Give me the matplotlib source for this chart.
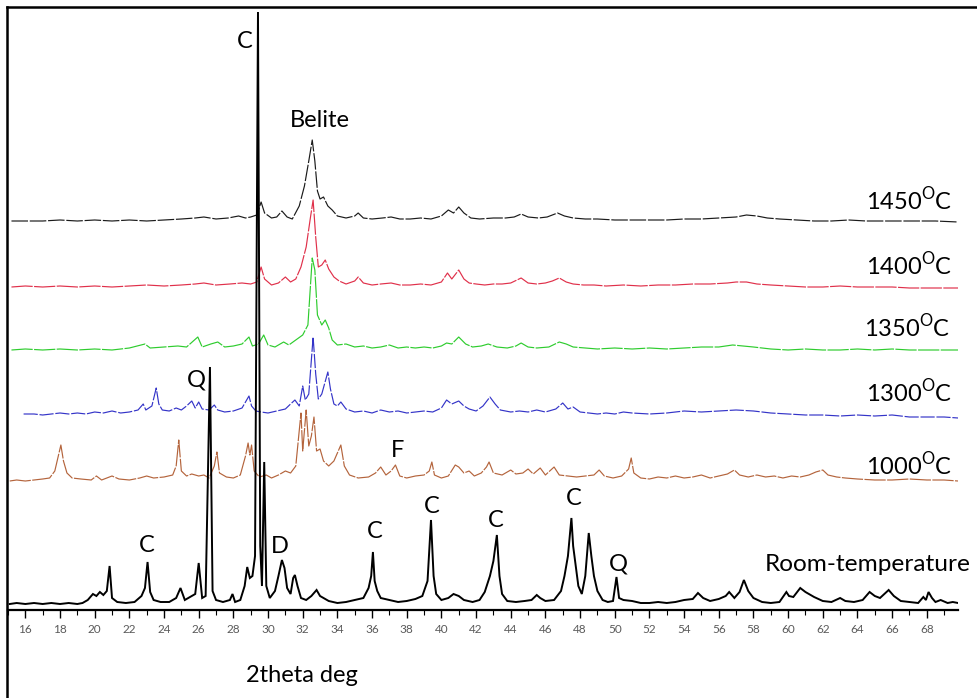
import matplotlib
matplotlib.use("Agg")
import matplotlib.pyplot as plt
from matplotlib.lines import Line2D
import numpy as np

plt.rcParams['font.family'] = ['Lato', 'DejaVu Sans']

# ---------------- data (2theta, intensity above each pattern's baseline) ----------------
rt_x = [15.1,15.5,16.0,16.5,17.0,17.5,18.0,18.5,19.0,19.3,19.6,19.9,20.1,20.3,20.5,20.7,20.86,21.0,21.3,21.8,
        22.3,22.7,22.9,23.05,23.2,23.4,23.8,24.3,24.7,24.95,25.2,25.5,25.8,26.0,26.2,26.4,26.65,26.8,27.0,27.4,
        27.8,27.95,28.1,28.4,28.65,28.8,28.95,29.1,29.25,29.42,29.55,29.65,29.78,29.9,30.1,30.4,30.6,30.8,30.95,31.1,
        31.3,31.45,31.55,31.7,31.9,32.2,32.5,32.8,33.0,33.5,34.0,34.5,35.0,35.5,35.8,35.95,36.05,36.15,36.3,36.5,
        37.0,37.5,38.0,38.5,38.9,39.2,39.4,39.55,39.7,40.0,40.4,40.7,41.0,41.3,41.8,42.2,42.5,42.8,43.0,43.2,
        43.35,43.5,43.8,44.3,44.8,45.2,45.5,45.7,46.0,46.5,46.9,47.1,47.3,47.5,47.6,47.75,47.9,48.1,48.3,48.5,
        48.65,48.8,49.0,49.3,49.6,49.9,50.1,50.25,50.5,51.0,51.5,52.0,52.5,53.0,53.5,54.0,54.5,54.8,55.1,55.5,
        56.0,56.4,56.6,56.9,57.2,57.45,57.7,58.0,58.5,59.0,59.5,59.9,60.05,60.3,60.7,61.0,61.5,62.0,62.5,63.0,
        63.3,63.8,64.3,64.7,65.0,65.3,65.8,66.1,66.5,67.0,67.5,67.8,67.95,68.1,68.3,68.5,68.8,69.2,69.5,69.8]
rt_y = [2,3,2,3,2,3,2,3,2,3,6,12,10,14,11,15,40,8,4,3,
        4,10,18,44,14,6,4,4,8,18,6,9,12,43,8,10,239,15,6,4,
        6,12,4,6,20,39,28,30,50,594,60,20,144,20,8,15,30,46,38,18,
        12,28,31,20,8,6,10,16,10,5,3,4,6,8,18,30,54,25,15,8,
        6,4,5,7,10,25,86,30,12,6,8,12,10,6,4,6,14,30,45,71,
        30,12,5,4,5,6,11,8,5,6,15,30,50,88,60,40,20,12,30,73,
        50,30,15,6,4,5,29,8,6,5,3,3,4,3,4,6,7,13,8,5,
        7,10,14,8,14,26,15,8,4,3,4,14,10,9,18,14,9,5,4,8,
        5,4,6,14,10,8,16,10,5,4,3,9,6,14,8,4,6,3,4,3]

t1000_x = [15.1,15.5,16.0,16.5,17.0,17.4,17.7,17.9,18.05,18.2,18.4,18.7,19.2,19.8,20.1,20.4,21.0,21.4,22.0,22.6,
           23.0,23.4,24.0,24.5,24.7,24.85,25.0,25.3,25.6,26.0,26.3,26.6,26.9,27.05,27.2,27.6,28.0,28.4,28.7,28.85,
           28.95,29.05,29.2,29.5,29.9,30.2,30.6,31.0,31.3,31.6,31.9,32.0,32.2,32.35,32.5,32.65,32.8,33.0,33.2,33.5,
           33.8,34.2,34.4,34.7,35.2,35.8,36.2,36.5,36.8,37.1,37.35,37.6,38.0,38.5,39.0,39.3,39.45,39.6,40.0,40.4,
           40.8,41.0,41.3,41.6,41.9,42.3,42.6,42.75,43.0,43.5,44.0,44.3,44.7,45.0,45.3,45.7,46.0,46.5,46.8,47.3,
           47.8,48.3,48.8,49.1,49.4,49.9,50.4,50.8,50.95,51.1,51.5,52.0,52.5,53.0,53.5,54.0,54.5,55.0,55.5,56.0,
           56.5,56.9,57.2,57.7,58.2,58.7,59.2,59.7,60.2,60.7,61.2,61.6,62.0,62.3,62.8,63.3,64.0,65.0,66.0,67.0,
           68.0,69.0,69.8]
t1000_y = [0,1,0,1,2,3,10,25,36,20,8,3,2,1,5,1,5,2,1,3,
           5,3,4,6,15,41,10,5,7,5,6,3,15,29,8,4,3,6,25,38,
           26,36,10,4,6,3,6,10,8,15,68,30,71,35,45,64,30,32,20,15,
           20,36,15,6,3,4,8,14,6,10,16,5,3,5,6,10,19,6,3,5,
           16,14,8,10,5,8,14,19,8,6,11,7,8,12,7,13,6,14,6,5,
           4,5,6,11,5,3,5,12,23,8,3,2,4,3,5,3,4,6,3,5,
           7,11,6,4,6,4,5,3,5,4,6,9,11,6,4,3,2,1,1,2,
           1,1,0]

t1300_x = [15.9,16.5,17.0,17.5,18.0,18.5,19.0,19.5,20.0,20.5,21.0,21.5,22.0,22.5,22.8,22.95,23.3,23.55,23.7,23.9,
           24.3,24.7,25.0,25.3,25.6,25.8,26.0,26.2,26.6,26.9,27.1,27.5,28.0,28.5,28.7,28.9,29.05,29.3,29.6,30.0,
           30.5,31.0,31.3,31.55,31.8,32.0,32.15,32.35,32.6,32.75,32.9,33.1,33.45,33.6,33.8,34.0,34.2,34.5,35.0,35.5,
           36.0,36.5,37.0,37.5,38.0,38.5,39.0,39.5,40.0,40.3,40.6,41.0,41.3,41.6,42.0,42.4,42.8,43.1,43.4,44.0,
           44.5,45.0,45.5,46.0,46.6,47.0,47.3,47.6,48.0,48.5,49.0,49.5,50.0,50.5,51.0,52.0,53.0,54.0,55.0,56.0,
           57.0,58.0,59.0,60.0,61.0,62.0,63.0,64.0,65.0,66.0,67.0,68.0,69.0,69.8]
t1300_y = [0,0,-1,0,1,0,1,0,2,1,3,1,2,4,10,4,8,26,10,4,
           3,6,4,8,13,6,12,5,4,9,4,2,3,6,12,18,8,3,2,1,
           3,5,10,14,8,28,14,20,77,40,15,20,42,25,10,8,12,5,2,3,
           1,4,2,3,1,2,3,2,6,14,10,13,8,5,3,8,17,10,4,2,
           3,2,4,2,5,11,5,7,2,1,0,1,0,2,1,0,1,3,2,3,
           4,3,1,0,-1,-1,-2,-1,-2,-1,-3,-3,-3,-4]

t1350_x = [15.2,16.0,17.0,18.0,19.0,20.0,21.0,22.0,22.9,23.2,24.0,24.8,25.3,25.95,26.2,26.7,27.1,27.5,28.0,28.5,
           28.9,29.1,29.45,29.75,30.0,30.4,30.9,31.2,31.6,32.0,32.3,32.55,32.7,32.85,33.1,33.3,33.5,33.7,34.0,34.5,
           35.0,35.5,36.0,36.5,37.0,37.5,38.0,38.5,39.0,39.5,40.0,40.3,40.6,41.0,41.4,41.8,42.3,42.7,43.2,43.8,
           44.3,44.6,45.0,45.5,46.2,46.8,47.2,47.6,48.3,49.0,50.0,51.0,52.0,53.0,54.0,55.0,56.0,56.8,57.4,58.0,
           59.0,60.0,61.0,62.0,63.0,64.0,65.0,66.0,67.0,68.0,69.8]
t1350_y = [0,1,0,1,0,1,0,2,6,2,3,4,3,13,3,6,8,3,4,6,
           13,4,6,15,5,3,8,5,10,15,25,92,80,35,25,30,22,10,5,6,
           3,4,2,3,5,2,3,2,3,2,4,7,6,13,6,3,4,6,3,2,
           4,7,3,2,3,8,6,3,2,1,2,1,2,1,2,3,3,5,4,3,
           1,0,1,0,0,1,0,1,0,0,0]

t1400_x = [15.2,16.0,17.0,18.0,19.0,20.0,21.0,22.0,23.0,24.0,25.0,25.8,26.3,27.0,27.8,28.5,29.0,29.35,29.6,29.8,
           30.2,30.6,31.0,31.3,31.6,31.9,32.2,32.45,32.6,32.75,32.9,33.1,33.3,33.5,33.8,34.1,34.5,35.0,35.2,35.5,
           36.0,36.5,37.1,37.6,38.2,38.8,39.4,40.0,40.35,40.6,41.0,41.3,41.6,42.0,42.5,43.0,43.5,44.0,44.6,45.0,
           45.5,46.0,46.4,46.8,47.2,47.6,48.2,48.8,49.5,50.5,51.5,52.5,53.5,54.5,55.5,56.5,57.0,57.6,58.2,59.0,
           60.0,61.0,62.0,63.0,64.0,65.0,66.0,67.0,68.0,69.8]
t1400_y = [0,1,0,1,0,1,0,1,2,1,2,3,4,2,3,4,3,5,20,8,
           2,4,10,5,8,20,40,70,87,50,20,22,27,18,10,6,3,6,10,4,
           2,3,4,2,2,3,2,5,14,8,17,8,4,3,2,3,3,4,9,4,
           3,4,6,9,5,3,2,2,1,2,1,2,2,3,3,4,5,5,3,2,
           1,0,0,1,0,0,0,-1,-1,-1]

t1450_x = [15.2,16.0,17.0,18.0,19.0,20.0,21.0,22.0,23.0,24.0,25.0,25.8,26.3,27.0,27.7,28.3,28.7,29.0,29.35,29.6,
           29.8,30.2,30.5,30.8,31.1,31.4,31.8,32.1,32.35,32.55,32.7,32.85,33.0,33.2,33.45,33.7,34.0,34.5,35.0,35.2,
           35.5,36.0,36.6,37.1,37.6,38.2,38.8,39.4,40.0,40.4,40.7,41.0,41.3,41.7,42.2,43.0,43.7,44.2,44.6,45.0,
           45.6,46.1,46.7,47.1,47.6,48.3,49.0,50.0,51.0,52.0,53.0,54.0,55.0,56.0,57.0,57.6,58.2,58.8,59.5,60.5,
           61.5,62.5,63.5,64.5,65.5,66.5,67.5,68.5,69.8]
t1450_y = [0,0,0,1,0,1,0,1,0,1,2,3,4,2,3,5,3,4,6,19,
           8,3,4,10,4,2,15,35,60,81,60,30,22,24,15,11,5,3,5,8,
           3,2,3,4,2,2,3,2,5,11,8,14,8,3,2,3,3,4,7,4,
           3,4,8,5,3,2,2,1,1,1,1,2,2,3,4,6,5,3,2,1,
           0,0,1,0,0,0,0,0,-1]

series_names = ['Room-temperature', '1000', '1300', '1350', '1400', '1450']
series_offsets = [4, 129, 196, 260, 323, 389]

peak_labels = ['C', 'Belite', 'Q', 'F', 'C', 'D', 'C', 'C', 'C', 'C', 'Q']

# ---------------- figure ----------------
W, H = 977, 698
fig = plt.figure(figsize=(W / 100, H / 100), dpi=100)

def fx(px):
    return px / W

def fy(py):
    return 1 - py / H

ax_l, ax_r, ax_b, ax_t = 8, 958, 610, 7
ax = fig.add_axes([fx(ax_l), fy(ax_b), fx(ax_r) - fx(ax_l), fy(ax_t) - fy(ax_b)])
ax.set_xlim(15.1, 69.8)
ax.set_ylim(0, ax_b - ax_t)

styles = [
    (t1450_x, t1450_y, series_offsets[5], '#1a1a1a', 0.85, (0, (14, 1.5))),
    (t1400_x, t1400_y, series_offsets[4], '#e0304a', 0.85, (0, (18, 1.2))),
    (t1350_x, t1350_y, series_offsets[3], '#2ecc2e', 0.85, (0, (18, 1.2))),
    (t1300_x, t1300_y, series_offsets[2], '#3434c8', 0.85, (0, (12, 1.5))),
    (t1000_x, t1000_y, series_offsets[1], '#b4643c', 0.85, (0, (18, 1.2))),
    (rt_x, rt_y, series_offsets[0], '#000000', 1.4, '-'),
]
for xs, ys, off, col, lw, ls in styles:
    ax.plot(xs, np.asarray(ys) + off, color=col, lw=lw, ls=ls, solid_joinstyle='miter')

for s in ['left', 'top', 'right']:
    ax.spines[s].set_visible(False)
ax.spines['bottom'].set_linewidth(1.6)
ax.set_yticks([])
ax.set_xticks(np.arange(16, 69, 2))
ax.set_xticks(np.arange(15, 70, 1), minor=True)
ax.tick_params(axis='x', which='major', length=6, width=1, direction='out', pad=4,
               labelsize=8.5, labelcolor='#5a5a5a')
ax.tick_params(axis='x', which='minor', length=3.5, width=0.8, direction='out')

# frame lines (top and left)
fig.add_artist(Line2D([fx(7), 1.0], [fy(7), fy(7)], color='black', lw=1.8))
fig.add_artist(Line2D([fx(7), fx(7)], [fy(7), 0.0], color='black', lw=1.8))

fs = 17
# temperature labels
temps = [('1450', 952, 210), ('1400', 952, 275), ('1350', 950, 337), ('1300', 952, 402), ('1000', 952, 475)]
for t, px, py in temps:
    fig.text(fx(px), fy(py), t + r'$^{\mathregular{O}}$C', ha='right', va='baseline', fontsize=fs)
fig.text(fx(971), fy(571), series_names[0], ha='right', va='baseline', fontsize=17.6)

# peak labels
label_pos = [(245, 48), (320, 127), (196, 387), (398, 457), (147, 552), (280, 553),
             (375, 538), (432, 513), (496, 527), (574, 505), (618, 571)]
for lab, (px, py) in zip(peak_labels, label_pos):
    fig.text(fx(px), fy(py), lab, ha='center', va='baseline', fontsize=fs)

fig.text(fx(302), fy(682), '2theta deg', ha='center', va='baseline', fontsize=fs)

fig.savefig('out.png', dpi=100)
